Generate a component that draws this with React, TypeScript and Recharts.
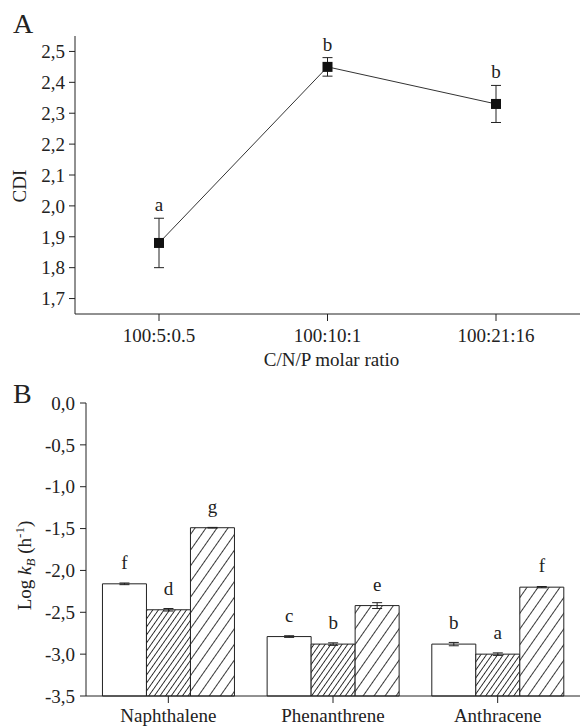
import React from "react";
import {
  ComposedChart,
  BarChart,
  Bar,
  Line,
  XAxis,
  YAxis,
  ErrorBar,
  LabelList,
} from "recharts";

// panel A: CDI by C/N/P molar ratio
const ratios = ["100:5:0.5", "100:10:1", "100:21:16"];
const cdiMean = [1.88, 2.45, 2.33];
const cdiErr = [0.08, 0.03, 0.06];
const cdiLetters = ["a", "b", "b"];
const cdiTicks = [1.7, 1.8, 1.9, 2.0, 2.1, 2.2, 2.3, 2.4, 2.5];

// panel B: log kB per compound, three treatments (open, dense hatch, sparse hatch)
const compounds = ["Naphthalene", "Phenanthrene", "Anthracene"];
const kbOpen = [-2.16, -2.79, -2.88];
const kbDense = [-2.47, -2.88, -3.0];
const kbSparse = [-1.49, -2.42, -2.2];
const errOpen = [0.01, 0.01, 0.02];
const errDense = [0.015, 0.015, 0.015];
const errSparse = [0.004, 0.035, 0.008];
const lettersOpen = ["f", "c", "b"];
const lettersDense = ["d", "b", "a"];
const lettersSparse = ["g", "e", "f"];
const kbTicks = [-3.5, -3.0, -2.5, -2.0, -1.5, -1.0, -0.5, 0];
const KB_BASE = -3.5;

const FONT = "'Liberation Serif', 'Times New Roman', Tinos, serif";
const INK = "#222";

const cdiData = ratios.map((r, i) => ({
  ratio: r,
  cdi: cdiMean[i],
  err: cdiErr[i],
  top: cdiMean[i] + cdiErr[i],
  letter: cdiLetters[i],
}));

const kbData = compounds.map((c, i) => ({
  compound: c,
  open: kbOpen[i],
  dense: kbDense[i],
  sparse: kbSparse[i],
  eOpen: errOpen[i],
  eDense: errDense[i],
  eSparse: errSparse[i],
  lOpen: lettersOpen[i],
  lDense: lettersDense[i],
  lSparse: lettersSparse[i],
}));

const comma = (v: number) => v.toFixed(1).replace(".", ",");
const tickStyle = { fontSize: 19, fill: INK, fontFamily: FONT };

function SquareDot(p: any) {
  if (p.cx == null || p.cy == null) return <g key={p.index} />;
  return <rect key={p.index} x={p.cx - 5} y={p.cy - 5} width={10} height={10} fill="#111" />;
}

function Letter(offset: number) {
  return (p: any) => {
    const x = Number(p.x) + (Number(p.width) || 0) / 2;
    return (
      <text x={x} y={Number(p.y) - offset} textAnchor="middle" fontFamily={FONT} fontSize={19} fill={INK}>
        {p.value}
      </text>
    );
  };
}

function CdiTitle({ viewBox }: any) {
  const cx = viewBox.x + 26;
  const cy = viewBox.y + viewBox.height / 2 + 11;
  return (
    <text x={cx} y={cy} transform={`rotate(-90, ${cx}, ${cy})`} textAnchor="middle" fontFamily={FONT} fontSize={19} fill={INK}>
      CDI
    </text>
  );
}

function RatioTitle({ viewBox }: any) {
  return (
    <text x={viewBox.x + viewBox.width / 2 + 4} y={viewBox.y + 52} textAnchor="middle" fontFamily={FONT} fontSize={19} fill={INK}>
      C/N/P molar ratio
    </text>
  );
}

function KbTitle({ viewBox }: any) {
  const cx = viewBox.x + 31;
  const cy = viewBox.y + viewBox.height / 2 + 16;
  return (
    <text x={cx} y={cy} transform={`rotate(-90, ${cx}, ${cy})`} textAnchor="middle" fontFamily={FONT} fontSize={19} fill={INK}>
      Log <tspan fontStyle="italic">k</tspan>
      <tspan fontStyle="italic" fontSize={13} dy={4}>B</tspan>
      <tspan dy={-4}> (h</tspan>
      <tspan fontSize={13} dy={-7}>-1</tspan>
      <tspan dy={7}>)</tspan>
    </text>
  );
}

export default function App() {
  return (
    <div style={{ position: "absolute", left: 0, top: 0, width: 582, height: 728, background: "#fff", fontFamily: FONT }}>
      <ComposedChart width={582} height={375} data={cdiData} margin={{ top: 36, right: 2, left: 0, bottom: 0 }}>
        <text x={13} y={33} fontFamily={FONT} fontSize={28} fill={INK}>A</text>
        <XAxis
          dataKey="ratio"
          height={61}
          padding={{ left: 84, right: 84 }}
          tick={tickStyle}
          tickSize={7}
          tickMargin={8}
          axisLine={{ stroke: INK }}
          tickLine={{ stroke: INK }}
          label={<RatioTitle />}
        />
        <XAxis xAxisId="top" dataKey="ratio" orientation="top" height={0} tick={false} tickLine={false} axisLine={{ stroke: INK }} />
        <YAxis
          width={75}
          type="number"
          domain={[1.65, 2.55]}
          ticks={cdiTicks}
          tickFormatter={comma}
          tick={tickStyle}
          tickSize={6}
          tickMargin={4}
          axisLine={{ stroke: INK }}
          tickLine={{ stroke: INK }}
          label={<CdiTitle />}
        />
        <YAxis yAxisId="right" orientation="right" width={0} type="number" domain={[0, 1]} tick={false} tickLine={false} axisLine={{ stroke: "#999" }} />
        <Line
          type="linear"
          dataKey="cdi"
          stroke="#333"
          strokeWidth={1}
          dot={SquareDot}
          activeDot={false}
          isAnimationActive={false}
        >
          <ErrorBar dataKey="err" width={5} stroke={INK} strokeWidth={1} />
        </Line>
        <Line type="linear" dataKey="top" stroke="none" dot={false} activeDot={false} isAnimationActive={false}>
          <LabelList dataKey="letter" content={Letter(7)} />
        </Line>
      </ComposedChart>

      <BarChart
        width={582}
        height={353}
        data={kbData}
        margin={{ top: 28, right: 2, left: 0, bottom: 0 }}
        barCategoryGap="10%"
        barGap={0}
      >
        <defs>
          <pattern id="hatchDense" patternUnits="userSpaceOnUse" width={4.6} height={4.6} patternTransform="rotate(35)">
            <rect width={4.6} height={4.6} fill="#fff" />
            <line x1={2.3} y1={0} x2={2.3} y2={4.6} stroke={INK} strokeWidth={0.9} />
          </pattern>
          <pattern id="hatchSparse" patternUnits="userSpaceOnUse" width={9} height={9} patternTransform="rotate(35)">
            <rect width={9} height={9} fill="#fff" />
            <line x1={4.5} y1={0} x2={4.5} y2={9} stroke={INK} strokeWidth={0.9} />
          </pattern>
        </defs>
        <text x={13} y={28} fontFamily={FONT} fontSize={28} fill={INK}>B</text>
        <XAxis
          dataKey="compound"
          height={32}
          tick={tickStyle}
          tickSize={7}
          tickMargin={6}
          axisLine={{ stroke: INK }}
          tickLine={{ stroke: INK }}
        />
        <XAxis xAxisId="top" dataKey="compound" orientation="top" height={0} tick={false} tickLine={false} axisLine={{ stroke: INK }} />
        <YAxis
          width={86}
          type="number"
          domain={[-3.5, 0]}
          ticks={kbTicks}
          tickFormatter={comma}
          tick={tickStyle}
          tickSize={6}
          tickMargin={5}
          axisLine={{ stroke: INK }}
          tickLine={{ stroke: INK }}
          label={<KbTitle />}
        />
        <YAxis yAxisId="right" orientation="right" width={0} type="number" domain={[0, 1]} tick={false} tickLine={false} axisLine={{ stroke: "#999" }} />
        <Bar dataKey={(d: any) => [KB_BASE, d.open]} fill="#fff" stroke={INK} strokeWidth={1} isAnimationActive={false}>
          <ErrorBar dataKey="eOpen" width={5} stroke={INK} strokeWidth={1} />
          <LabelList dataKey="lOpen" content={Letter(15)} />
        </Bar>
        <Bar dataKey={(d: any) => [KB_BASE, d.dense]} fill="url(#hatchDense)" stroke={INK} strokeWidth={1} isAnimationActive={false}>
          <ErrorBar dataKey="eDense" width={5} stroke={INK} strokeWidth={1} />
          <LabelList dataKey="lDense" content={Letter(15)} />
        </Bar>
        <Bar dataKey={(d: any) => [KB_BASE, d.sparse]} fill="url(#hatchSparse)" stroke={INK} strokeWidth={1} isAnimationActive={false}>
          <ErrorBar dataKey="eSparse" width={5} stroke={INK} strokeWidth={1} />
          <LabelList dataKey="lSparse" content={Letter(15)} />
        </Bar>
      </BarChart>
    </div>
  );
}
